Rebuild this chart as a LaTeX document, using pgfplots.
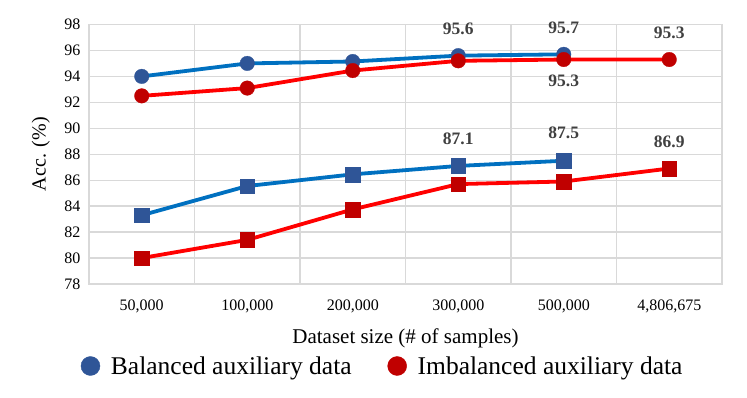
\documentclass[border=0pt]{standalone}
\usepackage{fontspec}
\setmainfont{Liberation Serif}
\usepackage{pgfplots}
\pgfplotsset{compat=1.18}

\definecolor{lineblue}{HTML}{0070C0}
\definecolor{markblue}{HTML}{2F5597}
\definecolor{linered}{HTML}{FF0000}
\definecolor{markred}{HTML}{C00000}
\definecolor{gridgray}{HTML}{D9D9D9}
\definecolor{lblgray}{HTML}{404040}

\begin{document}
\begin{tikzpicture}
\begin{axis}[
    scale only axis,
    width=633pt, height=259.5pt,
    clip=false,
    xmin=-0.5, xmax=5.5,
    ymin=78, ymax=98,
    ytick={78,80,...,98},
    xtick={0,1,2,3,4,5},
    xticklabels={{50,000},{100,000},{200,000},{300,000},{500,000},{4,806,675}},
    minor xtick={-0.5,0.5,1.5,2.5,3.5,4.5,5.5},
    xminorgrids=true, ymajorgrids=true, xmajorgrids=false,
    major tick length=0pt, minor tick length=0pt,
    grid style={gridgray, line width=1.3pt},
    minor grid style={gridgray, line width=1.3pt},
    axis line style={gridgray, line width=1.3pt},
    /pgf/number format/assume math mode=true,
    ticklabel style={font=\fontsize{16}{16}\selectfont, text=black},
    yticklabel style={xshift=-5pt},
    xticklabel style={yshift=-12pt},
    xlabel={Dataset size (\# of samples)},
    ylabel={Acc. (\%)},
    xlabel style={font=\fontsize{21}{21}\selectfont, at={(axis description cs:0.5,-0.208)}, anchor=center},
    ylabel style={font=\fontsize{20}{20}\selectfont, at={(axis description cs:-0.076,0.5)}, anchor=center},
    legend columns=2,
    legend style={draw=none, fill=none, font=\fontsize{25.5}{25.5}\selectfont,
        at={(axis description cs:0.464,-0.316)}, anchor=center,
        /tikz/every odd column/.append style={column sep=9pt},
        /tikz/every even column/.append style={column sep=34pt}},
]
\addlegendimage{only marks, mark=*, mark size=9.5pt, color=markblue}
\addlegendentry{Balanced auxiliary data}
\addlegendimage{only marks, mark=*, mark size=9.5pt, color=markred}
\addlegendentry{Imbalanced auxiliary data}

% balanced, circles
\addplot[forget plot, lineblue, line width=3.8pt, mark=*, mark size=7.3pt,
    mark options={fill=markblue, draw=markblue, line width=0.3pt}]
    coordinates {(0,94.0) (1,95.0) (2,95.15) (3,95.6) (4,95.7)};
% imbalanced, circles
\addplot[forget plot, linered, line width=3.8pt, mark=*, mark size=7.3pt,
    mark options={fill=markred, draw=markred, line width=0.3pt}]
    coordinates {(0,92.5) (1,93.1) (2,94.45) (3,95.2) (4,95.3) (5,95.3)};
% balanced, squares
\addplot[forget plot, lineblue, line width=3.8pt, mark=square*, mark size=7.3pt,
    mark options={fill=markblue, draw=markblue, line width=0.3pt}]
    coordinates {(0,83.3) (1,85.55) (2,86.45) (3,87.1) (4,87.5)};
% imbalanced, squares
\addplot[forget plot, linered, line width=3.8pt, mark=square*, mark size=7.3pt,
    mark options={fill=markred, draw=markred, line width=0.3pt}]
    coordinates {(0,80.0) (1,81.4) (2,83.75) (3,85.7) (4,85.9) (5,86.9)};

\begin{scope}[every node/.style={font=\fontsize{17.5}{17.5}\selectfont\bfseries, text=lblgray, anchor=center}]
\node[yshift=27pt] at (axis cs:3,95.6) {95.6};
\node[yshift=27pt] at (axis cs:4,95.7) {95.7};
\node[yshift=-21pt] at (axis cs:4,95.3) {95.3};
\node[yshift=27pt] at (axis cs:5,95.3) {95.3};
\node[yshift=27pt] at (axis cs:3,87.1) {87.1};
\node[yshift=28pt] at (axis cs:4,87.5) {87.5};
\node[yshift=27pt] at (axis cs:5,86.9) {86.9};
\end{scope}
\end{axis}
\pgfresetboundingbox
\path (-89pt,-114pt) rectangle (658pt,284pt);
\end{tikzpicture}
\end{document}
